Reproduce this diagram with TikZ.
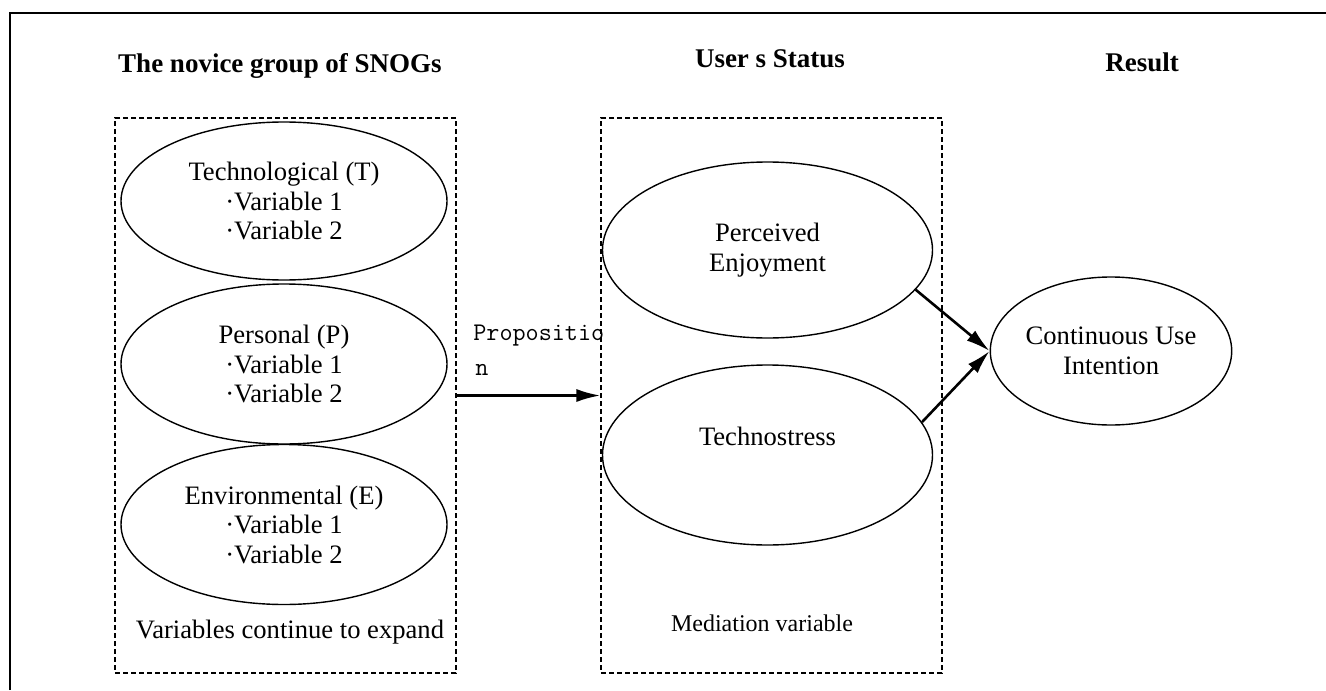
\documentclass[tikz,border=0pt]{standalone}
\usepackage{fontspec}
\setmainfont{Liberation Serif}
\usetikzlibrary{shapes.geometric,arrows.meta}
\begin{document}
\begin{tikzpicture}[x=0.5pt,y=-0.5pt,
  every node/.style={font=\fontsize{13.3}{14.75}\selectfont, inner sep=0pt},
  oval/.style={draw, ellipse, line width=0.7pt, align=center},
  groupbox/.style={draw, dash pattern=on 2.5pt off 1.5pt, line width=0.55pt,
                   minimum width=170.5pt, minimum height=277.5pt},
  heading/.style={font=\fontsize{13.5}{16}\selectfont\bfseries, anchor=base},
  note/.style={anchor=base},
  proptext/.style={anchor=base west, font=\ttfamily\fontsize{12.7}{14}\selectfont},
  link/.style={line width=1.3pt, -{Latex[length=12pt,width=6.5pt]}}]
\useasboundingbox (0,0) rectangle (1326,690);

% outer frame
\draw[line width=1.3pt] (10,690) -- (10,13) -- (1326,13);

% column headings
\node[heading] (h1) at (280,73) {The novice group of SNOGs};
\node[heading] (h2) at (770,68) {User s Status};
\node[heading] (h3) at (1142,72) {Result};

% dashed groups
\node[groupbox] (ctx) at (285.5,395.5) {};
\node[groupbox] (med) at (771.5,395.5) {};

% antecedent factors
\node[oval, minimum width=163pt, minimum height=79pt] (tech) at (284,201)
  {Technological (T)\\·Variable 1\\·Variable 2};
\node[oval, minimum width=163pt, minimum height=80pt] (pers) at (284,364)
  {Personal (P)\\·Variable 1\\·Variable 2};
\node[oval, minimum width=163pt, minimum height=80pt] (env) at (284,524.5)
  {Environmental (E)\\·Variable 1\\·Variable 2};
\node[note] (more) at (290,638) {Variables continue to expand};

% mediators
\node[oval, minimum width=165pt, minimum height=88pt] (pe) at (767.5,250)
  {Perceived\\Enjoyment};
\node[oval, minimum width=165pt, minimum height=90pt,
      label={[yshift=9.5pt]center:Technostress}] (ts) at (767.5,455) {};
\node[note, font=\fontsize{12}{14}\selectfont] (medlabel) at (762,631) {Mediation variable};

% outcome
\node[oval, minimum width=118pt, minimum height=74pt] (cui) at (1111,351)
  {Continuous Use\\Intention};

% proposition link
\node[proptext] (prop) at (473,340) {Propositio};
\node[proptext] (propn) at (475,375) {n};
\draw[link] (ctx.east) -- (med.west);

% mediator links
\draw[link] (pe.-15) -- (cui.west);
\draw[link] (ts.12) -- (cui.west);
\end{tikzpicture}
\end{document}
